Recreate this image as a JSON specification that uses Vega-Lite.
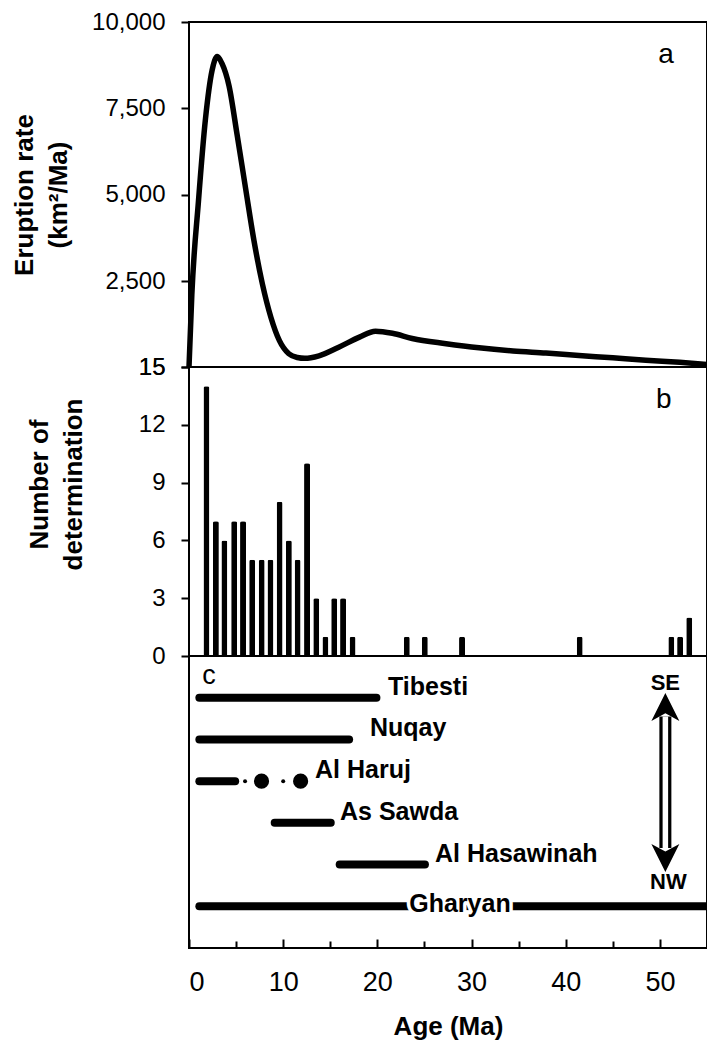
{
  "$schema": "https://vega.github.io/schema/vega-lite/v6.json",
  "padding": {"left": 10, "top": 9, "right": 0, "bottom": 0},
  "spacing": 0,
  "bounds": "flush",
  "config": {
    "view": {"stroke": "black", "strokeWidth": 2},
    "font": "Liberation Sans",
    "axis": {
      "domain": false, "grid": false, "tickColor": "black", "tickWidth": 2,
      "labelFont": "Liberation Sans", "labelColor": "black",
      "titleFont": "Liberation Sans", "titleColor": "black", "titleFontWeight": "bold"
    }
  },
  "vconcat": [
    {
      "width": 518, "height": 345,
      "encoding": {
        "x": {"field": "age", "type": "quantitative", "scale": {"domain": [0, 55], "nice": false, "zero": false}, "axis": null},
        "y": {"field": "rate", "type": "quantitative", "scale": {"domain": [15, 10000], "nice": false, "zero": false},
          "axis": {"values": [15, 2500, 5000, 7500, 10000], "format": ",.0f", "tickSize": 8, "labelFontSize": 24, "labelPadding": 16,
            "title": ["Eruption rate", "(km²/Ma)"], "titleFontSize": 26, "titleLineHeight": 34, "titlePadding": 20}}
      },
      "layer": [
        {
          "data": {"values": [
            {"age": 0, "rate": 15}, {"age": 0.3, "rate": 2100}, {"age": 1.0, "rate": 4800}, {"age": 1.75, "rate": 7200},
            {"age": 2.45, "rate": 8600}, {"age": 3.0, "rate": 9000}, {"age": 3.5, "rate": 8800}, {"age": 4.25, "rate": 8150},
            {"age": 5.1, "rate": 6750}, {"age": 6.0, "rate": 5200}, {"age": 6.9, "rate": 3670}, {"age": 7.8, "rate": 2410},
            {"age": 8.7, "rate": 1450}, {"age": 9.6, "rate": 780}, {"age": 10.6, "rate": 400}, {"age": 11.5, "rate": 290},
            {"age": 12.3, "rate": 265}, {"age": 13.8, "rate": 340}, {"age": 15.9, "rate": 590}, {"age": 18.1, "rate": 880},
            {"age": 19.8, "rate": 1050}, {"age": 21.6, "rate": 990}, {"age": 23.7, "rate": 840}, {"age": 27.3, "rate": 690},
            {"age": 30.8, "rate": 570}, {"age": 34.4, "rate": 480}, {"age": 37.9, "rate": 420}, {"age": 41.4, "rate": 350},
            {"age": 45.0, "rate": 280}, {"age": 48.5, "rate": 210}, {"age": 52.1, "rate": 150}, {"age": 55, "rate": 90}
          ]},
          "mark": {"type": "line", "color": "black", "strokeWidth": 5.5, "interpolate": "monotone"}
        },
        {
          "data": {"values": [{"label": "a", "age": 50.65, "rate": 8810}]},
          "mark": {"type": "text", "fontSize": 28, "baseline": "alphabetic", "align": "center", "color": "black"},
          "encoding": {"text": {"field": "label"}}
        }
      ]
    },
    {
      "width": 518, "height": 289,
      "encoding": {
        "x": {"field": "age", "type": "quantitative", "scale": {"domain": [0, 55], "nice": false, "zero": false}, "axis": null},
        "y": {"field": "count", "type": "quantitative", "scale": {"domain": [0, 15], "nice": false},
          "axis": {"values": [0, 3, 6, 9, 12, 15], "tickSize": 8, "labelFontSize": 24, "labelPadding": 16,
            "title": ["Number of", "determination"], "titleFontSize": 26, "titleLineHeight": 34, "titlePadding": 52, "titleY": 117}}
      },
      "layer": [
        {
          "data": {"values": [
            {"age": 1.35, "count": 14}, {"age": 2.37, "count": 7}, {"age": 3.29, "count": 6}, {"age": 4.35, "count": 7},
            {"age": 5.31, "count": 7}, {"age": 6.30, "count": 5}, {"age": 7.33, "count": 5}, {"age": 8.28, "count": 5},
            {"age": 9.27, "count": 8}, {"age": 10.27, "count": 6}, {"age": 11.22, "count": 5}, {"age": 12.24, "count": 10},
            {"age": 13.24, "count": 3}, {"age": 14.23, "count": 1}, {"age": 15.18, "count": 3}, {"age": 16.14, "count": 3},
            {"age": 17.17, "count": 1}, {"age": 23.04, "count": 1}, {"age": 24.99, "count": 1}, {"age": 29.02, "count": 1},
            {"age": 41.76, "count": 1}, {"age": 51.68, "count": 1}, {"age": 52.63, "count": 1}, {"age": 53.62, "count": 2}
          ]},
          "mark": {"type": "bar", "color": "black", "size": 6, "cornerRadiusEnd": 2}
        },
        {
          "data": {"values": [{"label": "b", "age": 50.86, "count": 12.85}]},
          "mark": {"type": "text", "fontSize": 28, "baseline": "alphabetic", "align": "center", "color": "black"},
          "encoding": {"text": {"field": "label"}}
        }
      ]
    },
    {
      "width": 518, "height": 292,
      "encoding": {
        "x": {"field": "age", "type": "quantitative", "scale": {"domain": [0, 55], "nice": false, "zero": false},
          "axis": {"values": [0, 5, 10, 15, 20, 25, 30, 35, 40, 45, 50, 55],
            "labelExpr": "datum.value % 10 === 0 ? datum.label : ''",
            "tickSize": {"condition": {"test": "datum.value % 10 === 0", "value": -9}, "value": -7},
            "labelFontSize": 27, "labelPadding": 30, "title": "Age (Ma)", "titleFontSize": 26, "titlePadding": 18}},
        "y": {"field": "row", "type": "quantitative", "scale": {"domain": [0, 7], "nice": false, "zero": false, "reverse": true}, "axis": null}
      },
      "layer": [
        {
          "data": {"values": [
            {"field": "Tibesti", "age": 1.1, "end": 19.9, "row": 1},
            {"field": "Nuqay", "age": 1.1, "end": 17.0, "row": 2},
            {"field": "Al Haruj", "age": 1.1, "end": 4.9, "row": 3},
            {"field": "As Sawda", "age": 9.1, "end": 15.05, "row": 4},
            {"field": "Al Hasawinah", "age": 16.0, "end": 25.05, "row": 5},
            {"field": "Gharyan", "age": 1.1, "end": 55, "row": 6}
          ]},
          "mark": {"type": "rule", "color": "black", "strokeWidth": 8, "strokeCap": "round"},
          "encoding": {"x2": {"field": "end"}}
        },
        {
          "data": {"values": [{"age": 5.95, "row": 3}, {"age": 10.0, "row": 3}]},
          "mark": {"type": "point", "shape": "circle", "filled": true, "color": "black", "size": 16, "opacity": 1}
        },
        {
          "data": {"values": [{"age": 7.7, "row": 3}, {"age": 11.85, "row": 3}]},
          "mark": {"type": "point", "shape": "circle", "filled": true, "color": "black", "size": 230, "opacity": 1}
        },
        {
          "data": {"values": [
            {"field": "Tibesti", "age": 21.13, "row": 1},
            {"field": "Nuqay", "age": 19.22, "row": 2},
            {"field": "Al Haruj", "age": 13.38, "row": 3},
            {"field": "As Sawda", "age": 16.03, "row": 4},
            {"field": "Al Hasawinah", "age": 26.12, "row": 5}
          ]},
          "mark": {"type": "text", "align": "left", "baseline": "middle", "dy": -11, "fontSize": 25, "fontWeight": "bold", "color": "black"},
          "encoding": {"text": {"field": "field"}}
        },
        {
          "data": {"values": [{"field": "Gharyan", "age": 28.77, "row": 6}]},
          "mark": {"type": "text", "align": "center", "baseline": "middle", "dy": -2, "fontSize": 25, "fontWeight": "bold", "color": "white", "stroke": "white", "strokeWidth": 7},
          "encoding": {"text": {"field": "field"}}
        },
        {
          "data": {"values": [{"field": "Gharyan", "age": 28.77, "row": 6}]},
          "mark": {"type": "text", "align": "center", "baseline": "middle", "dy": -2, "fontSize": 25, "fontWeight": "bold", "color": "black"},
          "encoding": {"text": {"field": "field"}}
        },
        {
          "data": {"values": [{"age": 50.58, "row": 1.45, "row_end": 4.6}]},
          "mark": {"type": "rule", "color": "black", "strokeWidth": 12},
          "encoding": {"y2": {"field": "row_end"}}
        },
        {
          "data": {"values": [{"age": 50.58, "row": 1.45, "row_end": 4.6}]},
          "mark": {"type": "rule", "color": "white", "strokeWidth": 5.5},
          "encoding": {"y2": {"field": "row_end"}}
        },
        {
          "data": {"values": [{"age": 50.58, "row": 1.22}]},
          "mark": {"type": "point", "shape": "M0,-1L1,1L0,0.45L-1,1Z", "filled": true, "color": "black", "size": 784, "opacity": 1}
        },
        {
          "data": {"values": [{"age": 50.58, "row": 4.84}]},
          "mark": {"type": "point", "shape": "M0,1L1,-1L0,-0.45L-1,-1Z", "filled": true, "color": "black", "size": 784, "opacity": 1}
        },
        {
          "data": {"values": [{"label": "SE", "age": 50.58, "row": 0.647}, {"label": "NW", "age": 50.9, "row": 5.42}]},
          "mark": {"type": "text", "align": "center", "baseline": "middle", "fontSize": 22, "fontWeight": "bold", "color": "black"},
          "encoding": {"text": {"field": "label"}}
        },
        {
          "data": {"values": [{"label": "c", "age": 2.12, "row": 0.67}]},
          "mark": {"type": "text", "align": "center", "baseline": "alphabetic", "fontSize": 27, "color": "black"},
          "encoding": {"text": {"field": "label"}}
        }
      ]
    }
  ]
}
